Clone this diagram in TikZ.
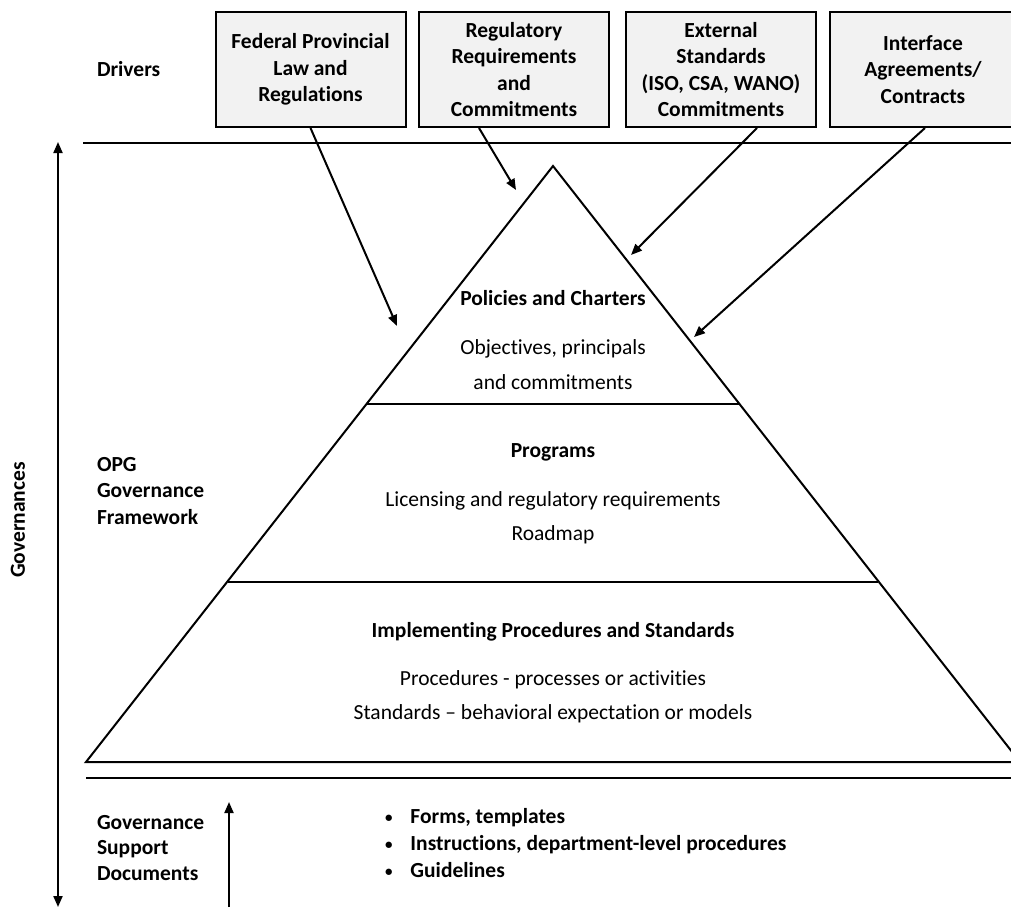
\documentclass[tikz,border=0pt]{standalone}
\usepackage{fontspec}
\setmainfont{Carlito}[Ligatures=CommonOff]
\usetikzlibrary{arrows.meta,calc}
\definecolor{boxgray}{HTML}{F2F2F2}
\newcommand{\smallbullet}{\raisebox{1pt}{\fontsize{15}{15}\selectfont•}}

\begin{document}
\begin{tikzpicture}[x=1pt,y=-1pt,line width=2pt,
  driverbox/.style={draw, fill=boxgray, minimum width=190pt, minimum height=115pt,
    align=center, inner sep=0pt, font=\fontsize{21.5}{26.5}\selectfont\bfseries},
  arr/.style={-{Triangle[length=11pt,width=9pt]}},
  bothend/.style={{Triangle[length=11pt,width=9pt]}-{Triangle[length=11pt,width=9pt]}},
  title/.style={font=\fontsize{21.5}{24}\selectfont\bfseries, inner sep=0pt},
  body/.style={font=\fontsize{21.5}{24}\selectfont, inner sep=0pt},
  side/.style={font=\fontsize{21.5}{26.5}\selectfont\bfseries, align=left, anchor=west, inner sep=0pt},
]
\useasboundingbox (0,0) rectangle (1011,907);

% driver boxes
\node[driverbox] (b1) at (310.5,69.5) {Federal Provincial\\Law and\\Regulations};
\node[driverbox] (b2) at (514,69.5) {Regulatory\\Requirements\\and\\Commitments};
\node[driverbox] (b3) at (721,69.5) {External\\Standards\\(ISO, CSA, WANO)\\Commitments};
\node[driverbox, minimum width=186pt] (b4) at (923,69.5) {Interface\\Agreements/\\Contracts};

\node[side] (drv) at (96,69) {Drivers};

% separator lines
\coordinate (topL) at (83,143);
\coordinate (topR) at (1011,143);
\draw (topL) -- (topR);
\coordinate (lowL) at (86,778);
\coordinate (lowR) at (1011,778);
\draw (lowL) -- (lowR);

% pyramid
\coordinate (apex) at (553,166);
\coordinate (baseL) at (86,762);
\coordinate (baseR) at (1020,762);
\draw[line join=miter] (apex) -- (baseL) -- (baseR) -- cycle;
\draw (367,404) -- (739,404);
\draw (228,582) -- (878,582);

% pyramid texts
\node[title] (t1) at (553,298) {Policies and Charters};
\node[body] (t1a) at (553,349) {Objectives, principals};
\node[body] (t1b) at (553,382) {and commitments};
\node[title] (t2) at (553,452) {Programs};
\node[body] (t2a) at (553,501) {Licensing and regulatory requirements};
\node[body] (t2b) at (553,535) {Roadmap};
\node[title] (t3) at (553,632) {Implementing Procedures and Standards};
\node[body] (t3a) at (553,680) {Procedures - processes or activities};
\node[body] (t3b) at (553,714) {Standards – behavioral expectation or models};

% driver arrows
\coordinate (p1) at (397,326);
\coordinate (p2) at (516,190);
\coordinate (p3) at (631,255);
\coordinate (p4) at (694,337);
\draw[arr] (b1.south) -- (p1);
\draw[arr] ($(b2.south)+(-35,0)$) -- (p2);
\draw[arr] ($(b3.south)+(36,0)$) -- (p3);
\draw[arr] ($(b4.south)+(2,0)$) -- (p4);

% left labels
\node[side] (opg) at (96,491) {OPG\\Governance\\Framework};
\node[side, font=\fontsize{21.5}{25.5}\selectfont\bfseries] (gsd) at (96,848) {Governance\\Support\\Documents};
\node[font=\fontsize{21.5}{24}\selectfont\bfseries, rotate=90, inner sep=0pt] (gov) at (18,520) {Governances};

% vertical arrows
\coordinate (gvTop) at (58,142);
\coordinate (gvBot) at (58,907);
\draw[bothend] (gvTop) -- (gvBot);
\coordinate (supTop) at (229,802);
\coordinate (supBot) at (229,907);
\draw[arr] (supBot) -- (supTop);

% support document list
\node[font=\fontsize{21.5}{27}\selectfont\bfseries, anchor=west, align=left, inner sep=0pt] (lst) at (384,843)
  {\smallbullet\hspace{18pt}Forms, templates\\\smallbullet\hspace{18pt}Instructions, department-level procedures\\\smallbullet\hspace{18pt}Guidelines};
\end{tikzpicture}
\end{document}
